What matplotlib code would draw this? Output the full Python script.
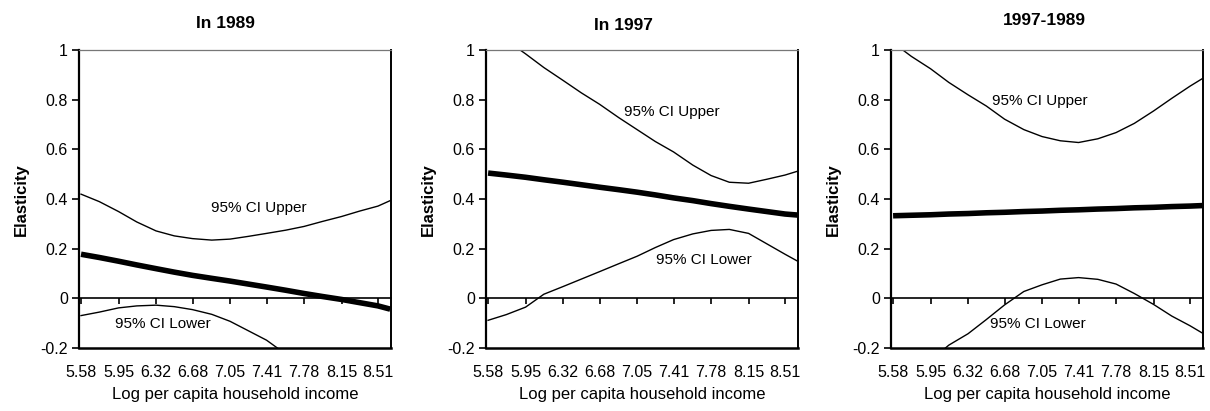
import numpy as np
import matplotlib
matplotlib.use("Agg")
import matplotlib.pyplot as plt

plt.rcParams["font.family"] = ["Liberation Sans", "DejaVu Sans"]

# Log per capita household income (x positions of the curves)
income = [5.58, 5.76, 5.95, 6.13, 6.32, 6.50, 6.68, 6.87, 7.05,
          7.23, 7.41, 7.60, 7.78, 7.96, 8.15, 8.33, 8.51, 8.63]
tick_labels = ["5.58", "5.95", "6.32", "6.68", "7.05", "7.41", "7.78", "8.15", "8.51"]
titles = ["In 1989", "In 1997", "1997-1989"]

nan = np.nan
# In 1989
est_1989 = [0.178, 0.165, 0.150, 0.135, 0.120, 0.106, 0.093, 0.081, 0.070,
            0.058, 0.046, 0.033, 0.020, 0.008, -0.004, -0.017, -0.030, -0.043]
upper_1989 = [0.420, 0.390, 0.350, 0.308, 0.272, 0.252, 0.241, 0.235, 0.239,
              0.250, 0.262, 0.275, 0.290, 0.310, 0.330, 0.352, 0.372, 0.394]
lower_1989 = [-0.069, -0.055, -0.038, -0.030, -0.027, -0.033, -0.045, -0.064, -0.092,
              -0.130, -0.168, -0.224, nan, nan, nan, nan, nan, nan]
# In 1997
est_1997 = [0.505, 0.497, 0.488, 0.478, 0.468, 0.458, 0.448, 0.438, 0.428,
            0.417, 0.405, 0.394, 0.382, 0.371, 0.360, 0.350, 0.340, 0.336]
upper_1997 = [1.09, 1.04, 0.985, 0.930, 0.878, 0.828, 0.782, 0.728, 0.680,
              0.632, 0.590, 0.537, 0.495, 0.468, 0.464, 0.480, 0.497, 0.512]
lower_1997 = [-0.088, -0.065, -0.035, 0.017, 0.048, 0.078, 0.108, 0.140, 0.170,
              0.205, 0.237, 0.260, 0.274, 0.278, 0.262, 0.220, 0.178, 0.151]
# 1997-1989
est_diff = [0.333, 0.335, 0.337, 0.340, 0.342, 0.345, 0.347, 0.350, 0.352,
            0.355, 0.357, 0.360, 0.362, 0.365, 0.367, 0.370, 0.372, 0.374]
upper_diff = [1.03, 0.975, 0.925, 0.870, 0.820, 0.775, 0.722, 0.680, 0.652,
              0.635, 0.628, 0.643, 0.668, 0.705, 0.755, 0.806, 0.855, 0.885]
lower_diff = [-0.36, -0.31, -0.25, -0.188, -0.142, -0.085, -0.026, 0.028, 0.055,
              0.078, 0.084, 0.077, 0.058, 0.020, -0.024, -0.071, -0.110, -0.139]

ests = [est_1989, est_1997, est_diff]
uppers = [upper_1989, upper_1997, upper_diff]
lowers = [lower_1989, lower_1997, lower_diff]

# label positions (x, y) for "95% CI Upper" / "95% CI Lower"
upper_pos = [(7.33, 0.364), (7.39, 0.751), (7.03, 0.795)]
lower_pos = [(6.39, -0.102), (7.705, 0.154), (7.01, -0.101)]

fig = plt.figure(figsize=(12.1, 4.11), dpi=100)
lefts = [0.0653, 0.4017, 0.7364]
title_xy = [(0.47, 1.047), (0.44, 1.040), (0.49, 1.057)]

for i in range(3):
    ax = fig.add_axes([lefts[i], 0.153, 0.258, 0.725])
    ax.plot(income, uppers[i], color="black", lw=1.0)
    ax.plot(income, lowers[i], color="black", lw=1.0)
    ax.plot(income, ests[i], color="black", lw=4.0, solid_capstyle="butt")

    ax.set_xlim(5.56, 8.64)
    ax.set_ylim(-0.2, 1.0)

    ax.set_yticks([-0.2, 0, 0.2, 0.4, 0.6, 0.8, 1.0])
    ax.set_yticklabels(["-0.2", "0", "0.2", "0.4", "0.6", "0.8", "1"])
    ax.tick_params(axis="y", direction="out", length=5, width=1.2, labelsize=11.5, pad=3)

    # x axis line at zero with short ticks below it
    ax.spines["bottom"].set_position(("data", 0))
    ax.spines["bottom"].set_linewidth(1.2)
    ticks = [float(t) for t in tick_labels]
    ax.set_xticks(ticks)
    ax.tick_params(axis="x", direction="out", length=4.5, width=1.2, labelbottom=False)

    # frame bottom with the category labels
    sec = ax.secondary_xaxis("bottom")
    sec.set_xticks(ticks)
    sec.set_xticklabels(tick_labels)
    sec.tick_params(length=0, labelsize=11.5, pad=12.5)
    sec.spines["bottom"].set_linewidth(1.8)
    sec.set_xlabel("Log per capita household income", fontsize=12, labelpad=5)

    ax.spines["left"].set_linewidth(1.6)
    ax.spines["right"].set_linewidth(1.4)
    ax.spines["top"].set_linewidth(0.9)
    ax.spines["top"].set_color("#777777")

    ax.set_ylabel("Elasticity", fontsize=12, fontweight="bold", labelpad=8.5)
    ax.set_title(titles[i], fontsize=12.5, fontweight="bold",
                 x=title_xy[i][0], y=title_xy[i][1])

    ax.text(upper_pos[i][0], upper_pos[i][1], "95% CI Upper", fontsize=11,
            ha="center", va="center")
    ax.text(lower_pos[i][0], lower_pos[i][1], "95% CI Lower", fontsize=11,
            ha="center", va="center")

fig.savefig("out.png", dpi=100)
